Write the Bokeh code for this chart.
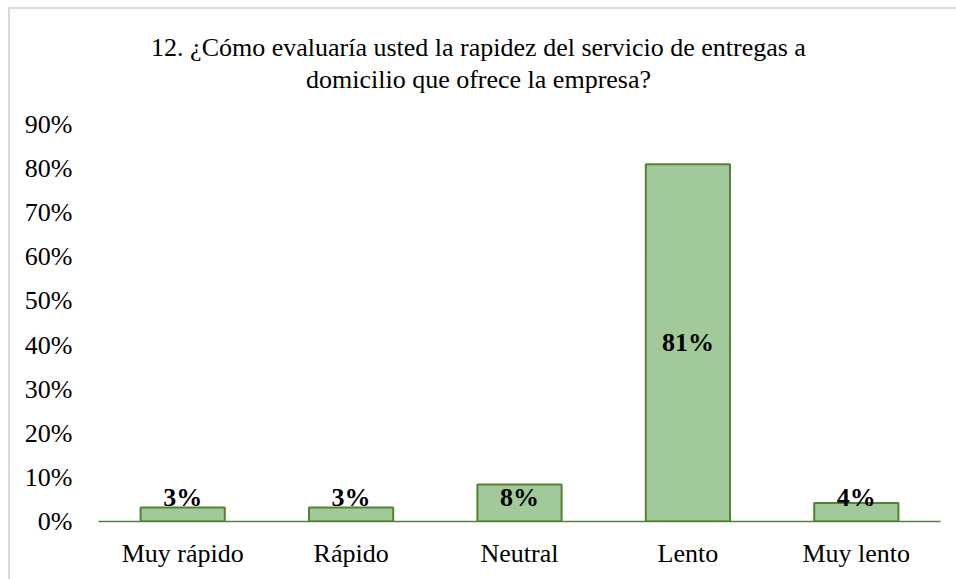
from bokeh.plotting import figure
from bokeh.models import ColumnDataSource, NumeralTickFormatter, FixedTicker, FactorRange, Range1d
from bokeh.core.properties import value
from bokeh.embed import file_html
from bokeh.resources import INLINE
import numpy as np

categories = ["Muy rápido", "Rápido", "Neutral", "Lento", "Muy lento"]
values = [0.032, 0.032, 0.084, 0.81, 0.042]
title_lines = ["12. ¿Cómo evaluaría usted la rapidez del servicio de entregas a",
               "domicilio que ofrece la empresa?"]
y_ticks = [0.0, 0.1, 0.2, 0.3, 0.4, 0.5, 0.6, 0.7, 0.8, 0.9]

FONT = "Liberation Serif"
FILL = "#A1C999"
EDGE = "#548235"
FS = "26px"

W, H = 956, 579
LEFT, RIGHT, BOTTOM = 98, 16, 58
PLOT_TOP = 124                      # canvas y of the 90% level
Y_MAX = 0.9
px_per_unit = (H - BOTTOM - PLOT_TOP) / Y_MAX
y_end = (H - BOTTOM) / px_per_unit  # frame extends to the top of the canvas to hold the title

vals = np.array(values)
labels = [f"{round(v * 100)}%" for v in values]
label_y = np.maximum(vals / 2, 0.054)

src = ColumnDataSource(dict(cat=categories, val=values, lab=labels, ly=label_y))

p = figure(width=W, height=H, x_range=FactorRange(*categories, range_padding=0),
           y_range=Range1d(0, y_end), output_backend="svg", toolbar_location=None,
           min_border_left=LEFT, min_border_right=RIGHT, min_border_top=0, min_border_bottom=BOTTOM)
p.outline_line_color = None
p.background_fill_color = None
p.border_fill_color = None
p.xgrid.grid_line_color = None
p.ygrid.grid_line_color = None
# chart-area border on the left and top edges
p.styles = {"box-shadow": "inset 8px 7px 0 0 #ffffff, inset 10px 9px 0 0 #D9D9D9",
            "background-color": "#ffffff"}

p.vbar(x="cat", top="val", width=0.5, source=src, fill_color=FILL, line_color=EDGE, line_width=2)
p.text(x="cat", y="ly", text="lab", source=src, text_align="center", text_baseline="middle",
       text_font=value(FONT), text_font_style="bold", text_font_size=FS, text_color="black")

# chart title, centred on the whole chart (canvas x = 478)
title_src = ColumnDataSource(dict(
    x=["Neutral", "Neutral"],
    y=[(H - BOTTOM - 47) / px_per_unit, (H - BOTTOM - 79) / px_per_unit],
    t=title_lines))
p.text(x="x", y="y", text="t", source=title_src, x_offset=-41, text_align="center",
       text_baseline="middle", text_font=value(FONT), text_font_size=FS, text_color="black")

p.yaxis.ticker = FixedTicker(ticks=y_ticks)
p.yaxis.formatter = NumeralTickFormatter(format="0%")
p.yaxis.axis_line_color = None
p.yaxis.major_tick_line_color = None
p.yaxis.minor_tick_line_color = None
p.yaxis.major_tick_out = 0
p.yaxis.major_label_standoff = 26
p.yaxis.major_label_text_font = FONT
p.yaxis.major_label_text_font_size = FS
p.yaxis.major_label_text_color = "black"

p.xaxis.axis_line_color = EDGE
p.xaxis.axis_line_width = 1.5
p.xaxis.major_tick_line_color = None
p.xaxis.minor_tick_line_color = None
p.xaxis.major_tick_out = 0
p.xaxis.major_label_standoff = 17
p.xaxis.major_label_text_font = FONT
p.xaxis.major_label_text_font_size = FS
p.xaxis.major_label_text_color = "black"

open("out.html", "w").write(file_html(p, INLINE))
